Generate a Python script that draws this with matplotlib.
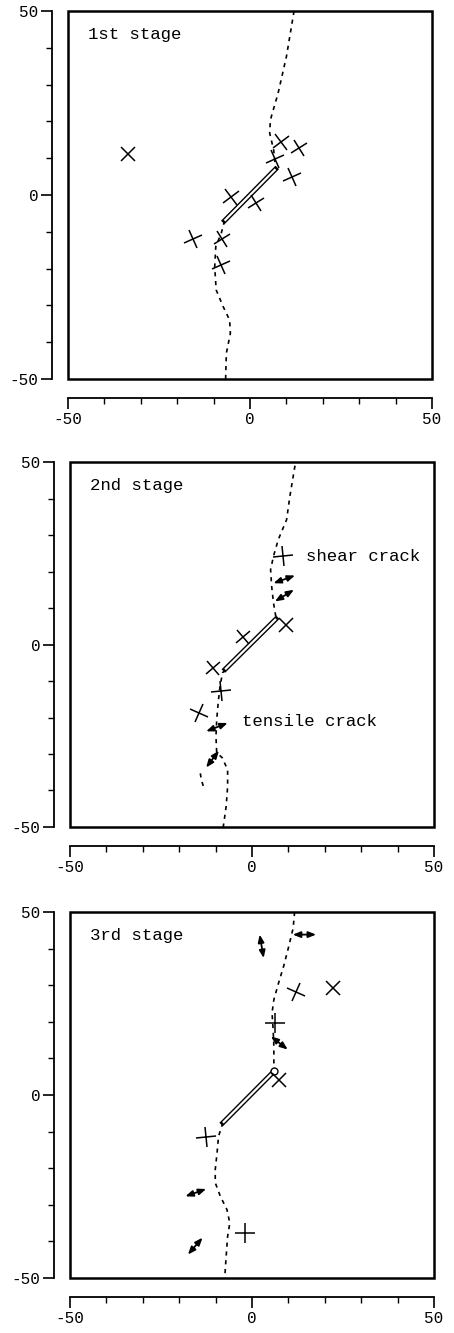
import matplotlib.pyplot as plt
from matplotlib.markers import MarkerStyle
from matplotlib.patches import Rectangle
from matplotlib.transforms import Affine2D

plt.rcParams['font.family'] = ['Liberation Mono', 'DejaVu Sans Mono']
plt.rcParams['axes.unicode_minus'] = False

# ---- data ----
stage_titles = ['1st stage', '2nd stage', '3rd stage']

# dashed trace, upper and lower branches
trace1_up_x = [12.1, 10.0, 7.7, 5.6, 5.4, 6.5, 7.0]
trace1_up_y = [50.0, 37.6, 27.6, 20.4, 16.8, 12.2, 7.5]
trace1_lo_x = [-7.0, -7.9, -9.4, -9.7, -9.3, -7.4, -5.6, -5.4, -6.5, -6.7]
trace1_lo_y = [-7.0, -10.4, -14.0, -19.5, -25.8, -30.3, -34.0, -37.6, -43.0, -50.0]

trace2_up_x = [11.8, 10.4, 9.5, 7.2, 5.9, 5.1, 5.4, 5.9, 6.6]
trace2_up_y = [49.0, 40.6, 34.2, 28.7, 24.2, 20.5, 15.9, 11.4, 7.3]
trace2_lo_x = [-7.4, -8.1, -8.8, -9.3, -9.7, -9.9, -9.7, -8.2, -6.7, -6.7, -7.1, -7.9]
trace2_lo_y = [-6.9, -7.8, -11.5, -16.0, -20.6, -25.2, -29.7, -31.0, -34.3, -38.9, -44.3, -50.0]
trace2_bit_x = [-14.2, -13.9, -13.3]
trace2_bit_y = [-35.3, -37.2, -39.0]

trace3_up_x = [11.7, 11.3, 10.1, 8.7, 7.3, 6.0, 5.5, 5.8, 6.0, 6.0]
trace3_up_y = [50.0, 45.6, 40.6, 35.2, 30.6, 26.0, 22.4, 17.9, 13.3, 7.0]
trace3_lo_x = [-8.0, -9.2, -9.6, -10.1, -10.1, -8.7, -6.9, -6.1, -6.7, -7.1, -7.5]
trace3_lo_y = [-7.6, -11.3, -15.8, -20.4, -24.0, -27.7, -31.3, -35.0, -38.6, -44.1, -50.0]

# main crack (end points)
crack1 = [(-7.0, -7.0), (7.0, 7.0)]
crack2 = [(-7.4, -6.8), (6.6, 7.0)]
crack3 = [(-8.0, -7.6), (6.1, 6.5)]

# crosses: x, y, rotation of a '+' in degrees
cross1_x = [-33.5, 8.4, 13.4, 7.0, 11.4, -5.3, 1.7, -15.8, -7.6, -8.1]
cross1_y = [11.0, 14.5, 12.7, 9.7, 5.0, -0.5, -2.3, -12.0, -12.0, -19.0]
cross1_a = [45, 36, 32, 27, 27, 35, 30, 27, 30, 25]

cross2_x = [8.6, 9.3, -2.4, -10.6, -8.6, -14.7]
cross2_y = [24.2, 5.4, 2.0, -6.4, -12.8, -18.8]
cross2_a = [3, 45, 40, 40, 6, -22]

cross3_x = [12.2, 22.2, 6.4, 7.3, -12.6, -1.8]
cross3_y = [28.0, 29.2, 19.7, 4.2, -11.6, -37.7]
cross3_a = [-25, 45, 0, 45, 3, 0]

# tensile cracks: double arrows (x0, y0, x1, y1)
arrows2 = [(5.9, 16.8, 11.8, 18.9), (6.3, 11.8, 11.5, 15.0),
           (-12.6, -23.8, -6.7, -21.5), (-12.6, -33.7, -9.1, -29.1)]
arrows3 = [(2.1, 43.8, 3.2, 37.4), (11.2, 43.8, 17.6, 43.8),
           (5.2, 16.0, 9.8, 12.4), (-18.3, -27.7, -12.6, -25.7),
           (-17.6, -43.6, -13.6, -39.0)]

labels2 = [('shear crack', 14.8, 24.2), ('tensile crack', -2.8, -21.0)]

# ---- layout ----
fig = plt.figure(figsize=(4.54, 13.33), dpi=100)
boxes = [(0.1498, 0.7157, 0.8018, 0.2761),
         (0.1542, 0.3796, 0.8018, 0.2738),
         (0.1542, 0.0413, 0.8018, 0.2746)]


def setup(ax, title):
    ax.set_xlim(-50, 50)
    ax.set_ylim(-50, 50)
    for s in ['top', 'right']:
        ax.spines[s].set_visible(False)
    ax.spines['left'].set_position(('outward', 11.5))
    ax.spines['bottom'].set_position(('outward', 13.5))
    for s in ['left', 'bottom']:
        ax.spines[s].set_linewidth(1.3)
    ax.add_patch(Rectangle((0, 0), 1, 1, transform=ax.transAxes, fill=False,
                           lw=1.8, ec='k', clip_on=False, zorder=5))
    ax.set_xticks([-50, 0, 50])
    ax.set_yticks([-50, 0, 50])
    ax.set_xticks(range(-50, 51, 10), minor=True)
    ax.set_yticks(range(-50, 51, 10), minor=True)
    ax.tick_params(which='major', length=8, width=1.2, labelsize=11.5, pad=2)
    ax.tick_params(which='minor', length=4, width=1.0)
    ax.text(-44.5, 43.5, title, fontsize=12.5, va='center', ha='left')


def trace(ax, xs, ys):
    ax.plot(xs, ys, color='k', lw=1.2, ls=(0, (2.5, 2.8)))


def crack(ax, ends):
    xs = [ends[0][0], ends[1][0]]
    ys = [ends[0][1], ends[1][1]]
    ax.plot(xs, ys, color='k', lw=3.6, solid_capstyle='projecting', zorder=3)
    ax.plot(xs, ys, color='w', lw=1.6, solid_capstyle='butt', zorder=4)


def crosses(ax, xs, ys, angles):
    for x, y, a in zip(xs, ys, angles):
        m = MarkerStyle('+', transform=Affine2D().rotate_deg(a))
        ax.plot(x, y, marker=m, ms=14, mew=1.1, color='k', ls='none', zorder=6)


def double_arrows(ax, arrows):
    for x0, y0, x1, y1 in arrows:
        ax.annotate('', xy=(x1, y1), xytext=(x0, y0),
                    arrowprops=dict(arrowstyle='<|-|>,head_length=0.45,head_width=0.18',
                                    lw=1.3, color='k', shrinkA=0, shrinkB=0))


axes = [fig.add_axes(b) for b in boxes]
for ax, t in zip(axes, stage_titles):
    setup(ax, t)

# 1st stage
ax = axes[0]
trace(ax, trace1_up_x, trace1_up_y)
trace(ax, trace1_lo_x, trace1_lo_y)
crack(ax, crack1)
crosses(ax, cross1_x, cross1_y, cross1_a)

# 2nd stage
ax = axes[1]
trace(ax, trace2_up_x, trace2_up_y)
trace(ax, trace2_lo_x, trace2_lo_y)
trace(ax, trace2_bit_x, trace2_bit_y)
crack(ax, crack2)
crosses(ax, cross2_x, cross2_y, cross2_a)
double_arrows(ax, arrows2)
for txt, x, y in labels2:
    ax.text(x, y, txt, fontsize=12.5, va='center', ha='left')

# 3rd stage
ax = axes[2]
trace(ax, trace3_up_x, trace3_up_y)
trace(ax, trace3_lo_x, trace3_lo_y)
crack(ax, crack3)
ax.plot(crack3[1][0], crack3[1][1], marker='o', ms=5, mfc='w', mec='k', mew=1.0, zorder=5)
crosses(ax, cross3_x, cross3_y, cross3_a)
double_arrows(ax, arrows3)

fig.savefig('out.png', dpi=100)
